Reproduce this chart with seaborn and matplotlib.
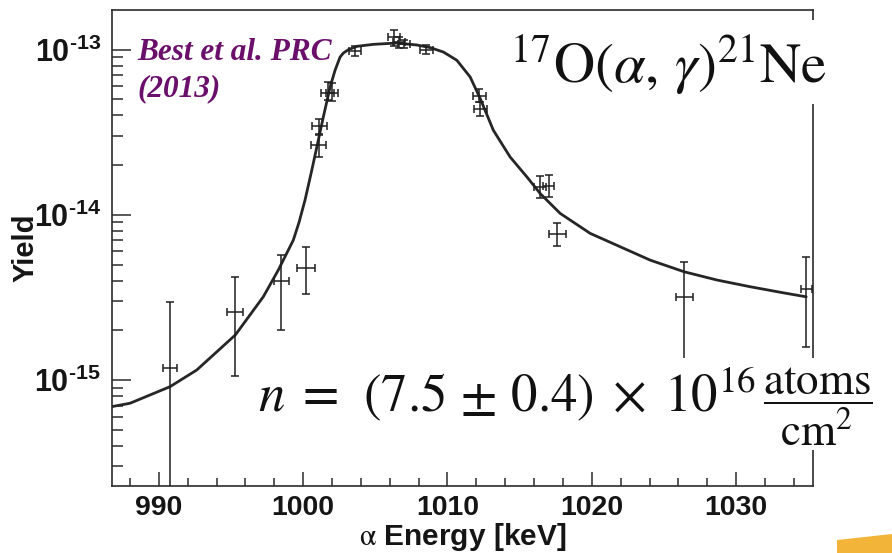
import numpy as np
import matplotlib
matplotlib.use("Agg")
import matplotlib.pyplot as plt
from matplotlib.patches import Rectangle, Polygon
from matplotlib.ticker import FixedLocator, LogLocator, MultipleLocator, NullFormatter
import seaborn as sns

# Measured yield points: beam energy, yield, and error bounds
energy = [990.78, 995.30, 998.47, 1000.20, 1001.07, 1001.13, 1001.70, 1002.00,
          1003.60, 1006.30, 1006.65, 1007.00, 1008.52, 1012.19, 1012.26,
          1016.42, 1017.00, 1017.62, 1026.40, 1034.85]
yield_ = [1.19e-15, 2.59e-15, 3.97e-15, 4.78e-15, 2.64e-14, 3.47e-14, 5.50e-14, 5.45e-14,
          9.77e-14, 1.19e-13, 1.11e-13, 1.08e-13, 1.00e-13, 5.25e-14, 4.35e-14,
          1.48e-14, 1.50e-14, 7.64e-15, 3.19e-15, 3.54e-15]
energy_err = [0.50, 0.54, 0.52, 0.60, 0.50, 0.50, 0.45, 0.45,
              0.43, 0.40, 0.40, 0.40, 0.45, 0.45, 0.45,
              0.40, 0.40, 0.58, 0.58, 0.38]
yield_lo = [1.0e-16, 1.05e-15, 2.0e-15, 3.3e-15, 2.24e-14, 3.1e-14, 4.94e-14, 4.9e-14,
            9.1e-14, 1.06e-13, 1.03e-13, 1.02e-13, 9.4e-14, 4.8e-14, 3.95e-14,
            1.26e-14, 1.28e-14, 6.49e-15, 1.0e-15, 1.58e-15]
yield_hi = [2.95e-15, 4.18e-15, 5.75e-15, 6.35e-15, 3.03e-14, 3.83e-14, 6.38e-14, 6.3e-14,
            1.05e-13, 1.32e-13, 1.19e-13, 1.14e-13, 1.07e-13, 5.75e-14, 4.8e-14,
            1.72e-14, 1.74e-14, 8.95e-15, 5.2e-15, 5.52e-15]

# Fitted thick-target yield curve
fit_energy = [986.76, 988.01, 990.78, 992.63, 995.30, 997.24, 998.28, 999.32, 999.72,
              1000.13, 1000.60, 1000.95, 1001.40, 1001.87, 1002.21, 1002.56, 1002.79,
              1003.14, 1003.72, 1004.87, 1006.49, 1007.88, 1008.80, 1009.72, 1010.65,
              1011.57, 1012.26, 1013.18, 1014.34, 1015.50, 1016.42, 1017.81, 1019.89,
              1024.04, 1026.40, 1028.67, 1030.97, 1033.28, 1034.85]
fit_yield = [6.90e-16, 7.23e-16, 9.11e-16, 1.149e-15, 1.872e-15, 3.19e-15, 4.63e-15, 7.03e-15, 9.03e-15,
             1.228e-14, 1.864e-14, 2.578e-14, 3.916e-14, 5.946e-14, 7.50e-14, 9.03e-14, 9.55e-14,
             1.001e-13, 1.048e-13, 1.078e-13, 1.098e-13, 1.068e-13, 1.030e-13, 9.68e-14, 8.63e-14,
             6.84e-14, 5.08e-14, 3.25e-14, 2.24e-14, 1.698e-14, 1.347e-14, 1.02e-14, 7.72e-15,
             5.32e-15, 4.52e-15, 4.03e-15, 3.67e-15, 3.37e-15, 3.19e-15]

x_ticks = [990, 1000, 1010, 1020, 1030]
x_tick_labels = ["990", "1000", "1010", "1020", "1030"]
y_ticks = [1e-15, 1e-14, 1e-13]
y_tick_labels = [r"$10^{\text{-}15}$", r"$10^{\text{-}14}$", r"$10^{\text{-}13}$"]

sns.set_style("white")
plt.rcParams.update({
    "font.family": ["Liberation Sans", "DejaVu Sans"],
    "mathtext.fontset": "custom",
    "mathtext.rm": "Liberation Sans:bold",
    "mathtext.it": "Liberation Sans:italic:bold",
    "mathtext.bf": "Liberation Sans:bold",
})

W, H = 892, 553
fig = plt.figure(figsize=(W / 100, H / 100), dpi=100)
fig.patch.set_facecolor("white")
ax = fig.add_axes([112 / W, 1 - 485.7 / H, (812.7 - 112) / W, (485.7 - 10) / H])

ink = "#1f1f1f"
sns.lineplot(x=fit_energy, y=fit_yield, ax=ax, color="#262626", linewidth=2.0,
             sort=False, estimator=None, zorder=3)

e = np.array(energy)
y = np.array(yield_)
yerr = np.vstack([y - np.array(yield_lo), np.array(yield_hi) - y])
ax.errorbar(e, y, xerr=energy_err, yerr=yerr, fmt="none", ecolor=ink,
            elinewidth=1.1, capsize=2.7, capthick=1.1, zorder=4)

ax.set_yscale("log")
ax.set_xlim(986.76, 1035.3)
ax.set_ylim(2.29e-16, 1.74e-13)

ax.set_xticks(x_ticks, labels=x_tick_labels)
ax.xaxis.set_minor_locator(MultipleLocator(2))
ax.yaxis.set_major_locator(FixedLocator(y_ticks))
ax.set_yticklabels(y_tick_labels)
ax.yaxis.set_minor_locator(LogLocator(base=10, subs=np.arange(2, 10)))
ax.yaxis.set_minor_formatter(NullFormatter())

for s in ax.spines.values():
    s.set_visible(True)
    s.set_color("#2b2b2b")
    s.set_linewidth(1.2)

ax.tick_params(axis="both", which="both", direction="in", bottom=True, left=True,
               top=False, right=False, color="#2b2b2b", width=1.1, labelcolor="#151515")
ax.tick_params(axis="x", which="major", length=10, labelsize=20.5, pad=6.5)
ax.tick_params(axis="x", which="minor", length=5.8)
ax.tick_params(axis="y", which="major", length=14, labelsize=22, pad=8)
ax.tick_params(axis="y", which="minor", length=7.8)
for lab in ax.get_xticklabels():
    lab.set_fontweight("bold")

ax.set_xlabel(r"$\mathrm{\alpha}$ Energy [keV]", fontsize=21.5, fontweight="bold",
              color="#151515", math_fontfamily="stix")
ax.xaxis.set_label_coords(0.5, -0.074)
ax.set_ylabel("Yield", fontsize=21, fontweight="bold", color="#151515")
ax.yaxis.set_label_coords(-0.104, 0.5)

# Citation
purple = "#6a106b"
fig.text(137 / W, 1 - 60 / H, "Best et al. PRC", color=purple, fontsize=22.5,
         family="Liberation Serif", weight="bold", style="italic", va="baseline")
fig.text(137 / W, 1 - 96 / H, "(2013)", color=purple, fontsize=22.5,
         family="Liberation Serif", weight="bold", style="italic", va="baseline")

# Reaction label on a white panel
fig.add_artist(Rectangle((505 / W, 1 - 104 / H), 330 / W, 84 / H,
                         transform=fig.transFigure, facecolor="white",
                         edgecolor="none", zorder=5))
fig.text(510 / W, 1 - 83 / H, r"${}^{17}\mathrm{O}(\alpha,\,\gamma)^{21}\mathrm{Ne}$",
         fontsize=41, math_fontfamily="stix", color="#111111",
         va="baseline", zorder=6)

# Target areal density on a white panel
fig.add_artist(Rectangle((248 / W, 1 - 450 / H), (W - 248) / W, 92 / H,
                         transform=fig.transFigure, facecolor="white",
                         edgecolor="none", zorder=5))
fig.text(258 / W, 1 - 412 / H,
         r"$n\;=\;\,(7.5\,\pm\,0.4)\;\times\;10^{16}$",
         fontsize=38, math_fontfamily="stix", color="#111111",
         va="baseline", zorder=6)
fig.text(763 / W, 1 - 411 / H,
         r"$\dfrac{\mathrm{atoms}}{\mathrm{cm}^{2}}$",
         fontsize=32.5, math_fontfamily="stix", color="#111111",
         va="baseline", zorder=6)

# Corner accent
fig.add_artist(Polygon([(837 / W, 0), (837 / W, 1 - 540 / H), (1, 1 - 534 / H), (1, 0)],
                       closed=True, transform=fig.transFigure, facecolor="#f2b53a",
                       edgecolor="none", zorder=5))

fig.savefig("out.png", dpi=100)
